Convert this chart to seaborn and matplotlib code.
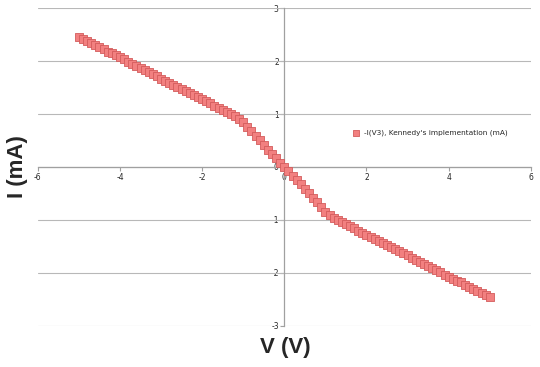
import numpy as np
import pandas as pd
import seaborn as sns
import matplotlib.pyplot as plt

# =====================================================
# DATA
# =====================================================

voltage = [
    -5.0, -4.9, -4.8, -4.7, -4.6, -4.5, -4.4, -4.3, -4.2, -4.1,
    -4.0, -3.9, -3.8, -3.7, -3.6, -3.5, -3.4, -3.3, -3.2, -3.1,
    -3.0, -2.9, -2.8, -2.7, -2.6, -2.5, -2.4, -2.3, -2.2, -2.1,
    -2.0, -1.9, -1.8, -1.7, -1.6, -1.5, -1.4, -1.3, -1.2, -1.1,
    -1.0, -0.9, -0.8, -0.7, -0.6, -0.5, -0.4, -0.3, -0.2, -0.1,
    0.0,
    0.1, 0.2, 0.3, 0.4, 0.5, 0.6, 0.7, 0.8, 0.9, 1.0,
    1.1, 1.2, 1.3, 1.4, 1.5, 1.6, 1.7, 1.8, 1.9, 2.0,
    2.1, 2.2, 2.3, 2.4, 2.5, 2.6, 2.7, 2.8, 2.9, 3.0,
    3.1, 3.2, 3.3, 3.4, 3.5, 3.6, 3.7, 3.8, 3.9, 4.0,
    4.1, 4.2, 4.3, 4.4, 4.5, 4.6, 4.7, 4.8, 4.9, 5.0,
]

current = [
    2.46, 2.42, 2.38, 2.34, 2.30, 2.26, 2.22, 2.18, 2.15, 2.11,
    2.07, 2.03, 1.99, 1.95, 1.91, 1.87, 1.83, 1.79, 1.75, 1.71,
    1.67, 1.63, 1.59, 1.55, 1.51, 1.47, 1.43, 1.39, 1.36, 1.32,
    1.28, 1.24, 1.20, 1.16, 1.12, 1.08, 1.04, 1.00, 0.96, 0.91,
    0.85, 0.76, 0.67, 0.59, 0.50, 0.42, 0.33, 0.25, 0.17, 0.08,
    0.00,
    -0.08, -0.17, -0.25, -0.33, -0.42, -0.50, -0.59, -0.67, -0.76, -0.85,
    -0.91, -0.96, -1.00, -1.04, -1.08, -1.12, -1.16, -1.20, -1.24, -1.28,
    -1.32, -1.36, -1.39, -1.43, -1.47, -1.51, -1.55, -1.59, -1.63, -1.67,
    -1.71, -1.75, -1.79, -1.83, -1.87, -1.91, -1.95, -1.99, -2.03, -2.07,
    -2.11, -2.15, -2.18, -2.22, -2.26, -2.30, -2.34, -2.38, -2.42, -2.46,
]

series_label = "-I(V3), Kennedy's implementation (mA)"
x_ticks = [-6, -4, -2, 0, 2, 4, 6]
y_ticks = [-3, -2, -1, 0, 1, 2, 3]

df = pd.DataFrame({"V": voltage, "I": current})

# =====================================================
# STYLE
# =====================================================

sns.set_style("white")
plt.rcParams["font.family"] = ["DejaVu Sans"]
plt.rcParams["axes.unicode_minus"] = False

fig = plt.figure(figsize=(5.4, 3.67), dpi=100)
ax = fig.add_axes([0.070, 0.112, 0.913, 0.866])

# =====================================================
# PLOT
# =====================================================

sns.scatterplot(
    data=df,
    x="V",
    y="I",
    marker="s",
    s=38,
    color="#F28080",
    edgecolor="#D35C5C",
    linewidth=0.6,
    label=series_label,
    ax=ax,
    zorder=3
)

ax.set_xlim(-6, 6)
ax.set_ylim(-3, 3)
ax.set_xticks(x_ticks)
ax.set_yticks(y_ticks)
ax.set_xticklabels([str(t) for t in x_ticks])
ax.set_yticklabels([str(t) for t in y_ticks])

# horizontal gridlines only
for yv in y_ticks:
    ax.axhline(yv, color="#B8B8B8", linewidth=0.8, zorder=1)

# axes crossing at the origin
ax.spines["left"].set_position(("data", 0))
ax.spines["bottom"].set_position(("data", 0))
ax.spines["right"].set_visible(False)
ax.spines["top"].set_visible(False)
for sp in ["left", "bottom"]:
    ax.spines[sp].set_color("#A0A0A0")
    ax.spines[sp].set_linewidth(0.9)

ax.tick_params(
    axis="both",
    direction="out",
    length=3,
    width=0.8,
    color="#A0A0A0",
    labelsize=5.5,
    pad=1,
    left=True,
    bottom=True
)

ax.set_xlabel("")
ax.set_ylabel("")

fig.text(0.528, 0.053, "V (V)", ha="center", va="center",
         fontsize=16, fontweight="bold", family="Liberation Sans")
fig.text(0.032, 0.545, "I (mA)", ha="center", va="center",
         fontsize=16, fontweight="bold", rotation=90,
         family="Liberation Sans")

ax.legend(
    loc="center left",
    bbox_to_anchor=(0.625, 0.607),
    frameon=False,
    fontsize=5.3,
    handletextpad=0.1,
    borderaxespad=0,
    markerscale=0.8
)

plt.savefig("out.png", dpi=100)
